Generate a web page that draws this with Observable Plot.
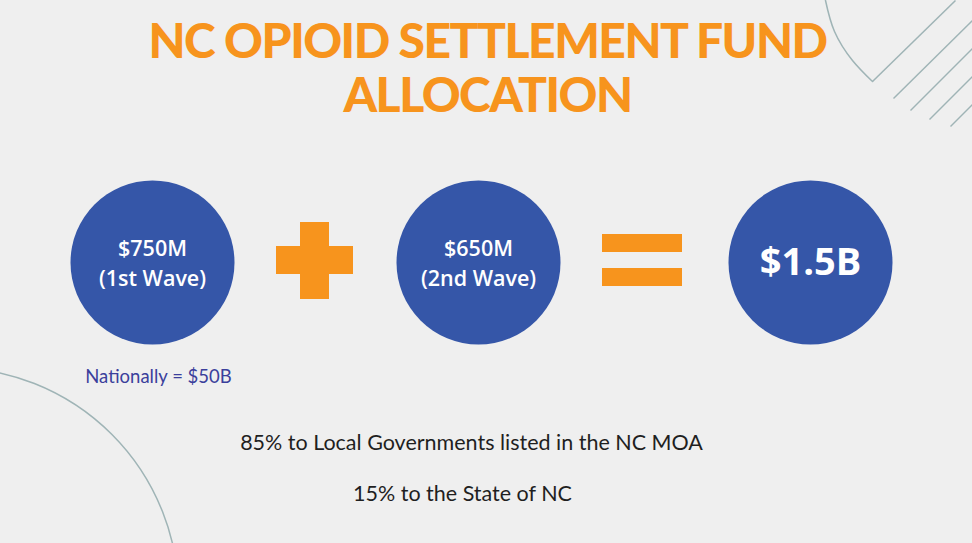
<!DOCTYPE html>
<html>
<head>
<meta charset="utf-8">
<script src="https://cdn.jsdelivr.net/npm/d3@7"></script>
<script src="https://cdn.jsdelivr.net/npm/@observablehq/plot@0.6"></script>
<style>
  html, body { margin: 0; padding: 0; background: #efefef; overflow: hidden; }
  #chart svg { display: block; }
</style>
</head>
<body>
<div id="chart"></div>
<script>
// ---- data ----
const titleLines = ["NC OPIOID SETTLEMENT FUND", "ALLOCATION"];
const waveAmounts = ["$750M", "$650M"];
const waveLabels = ["1st Wave", "2nd Wave"];
const totalAmount = "$1.5B";
const nationalNote = "Nationally = $50B";
const splitNotes = ["85% to Local Governments listed in the NC MOA", "15% to the State of NC"];

// ---- layout (pixel space) ----
const W = 972, H = 543;
const circleX = [152, 478, 810];
const circleY = 262;
const circleR = 82;
const BLUE = "#3556a8", ORANGE = "#f7941d", LINE = "#9fb4b6";

const circles = [
  ...waveAmounts.map((a, i) => ({x: circleX[i], y: circleY, text: `${a}\n(${waveLabels[i]})`, big: false})),
  {x: circleX[2], y: circleY, text: totalAmount, big: true}
];

// plus and equals signs
const plusRects = [
  {x1: 276, x2: 353, y1: 246, y2: 274},
  {x1: 300, x2: 329, y1: 222, y2: 299}
];
const eqRects = [
  {x1: 602, x2: 682, y1: 234, y2: 252},
  {x1: 602, x2: 682, y1: 268, y2: 286}
];

// decorative lines (top right)
const decoArc = [{x: 825, y: 0}, {x: 834, y: 31}, {x: 852, y: 60}, {x: 872, y: 81}];
const decoLinks = [
  {x1: 872, y1: 81, x2: 955, y2: 0},
  {x1: 893, y1: 98, x2: 972, y2: 20},
  {x1: 910, y1: 110, x2: 972, y2: 48},
  {x1: 929, y1: 119, x2: 972, y2: 76},
  {x1: 950, y1: 126, x2: 972, y2: 104}
];

const plot = Plot.plot({
  width: W,
  height: H,
  margin: 0,
  x: {domain: [0, W], range: [0, W], axis: null},
  y: {domain: [0, H], range: [0, H], axis: null},
  style: {background: "#efefef", overflow: "hidden"},
  marks: [
    // bottom-left big arc
    Plot.dot([{x: -50, y: 595}], {x: "x", y: "y", r: 228, fill: "none", stroke: LINE, strokeWidth: 1.5, clip: true}),
    // top-right decorations
    Plot.line(decoArc, {x: "x", y: "y", curve: "natural", stroke: LINE, strokeWidth: 1.5}),
    Plot.link(decoLinks, {x1: "x1", y1: "y1", x2: "x2", y2: "y2", stroke: LINE, strokeWidth: 1.5}),
    // title
    Plot.text([titleLines.join("\n")], {
      x: () => 487, y: () => 67, text: d => d,
      fill: ORANGE, fontSize: 48, fontWeight: 900, lineHeight: 1.12,
      fontFamily: "Lato, 'Open Sans', sans-serif"
    }),
    // circles
    Plot.dot(circles, {x: "x", y: "y", r: circleR, fill: BLUE, stroke: "none"}),
    Plot.text(circles.filter(d => !d.big), {
      x: "x", y: () => circleY - 1, text: "text", fill: "white", fontSize: 21.5, fontWeight: 600,
      lineHeight: 1.4, fontFamily: "'Open Sans', sans-serif"
    }),
    Plot.text(circles.filter(d => d.big), {
      x: "x", y: "y", text: "text", fill: "white", fontSize: 38, fontWeight: 700,
      fontFamily: "'Open Sans', sans-serif"
    }),
    // operators
    Plot.rect(plusRects, {x1: "x1", x2: "x2", y1: "y1", y2: "y2", fill: ORANGE}),
    Plot.rect(eqRects, {x1: "x1", x2: "x2", y1: "y1", y2: "y2", fill: ORANGE}),
    // notes
    Plot.text([nationalNote], {
      x: () => 158, y: () => 377, text: d => d, fill: "#3b3f9c", fontSize: 18.5,
      fontFamily: "Lato, sans-serif"
    }),
    Plot.text(splitNotes, {
      x: (d, i) => [471, 462][i], y: (d, i) => [443, 494][i], text: d => d, fill: "#1f1f1f", fontSize: 21.5,
      fontFamily: "Lato, sans-serif"
    })
  ]
});
document.getElementById("chart").appendChild(plot);

// fine typographic tracking
const svg = d3.select(plot);
svg.selectAll("text").filter(function() { return this.textContent.startsWith("NC OPIOID"); })
  .style("letter-spacing", "-1.5px");
svg.selectAll("text").filter(function() { return this.textContent.startsWith("$") && this.getAttribute("fill") === "white"; })
  .style("letter-spacing", "0.6px");
</script>
</body>
</html>
